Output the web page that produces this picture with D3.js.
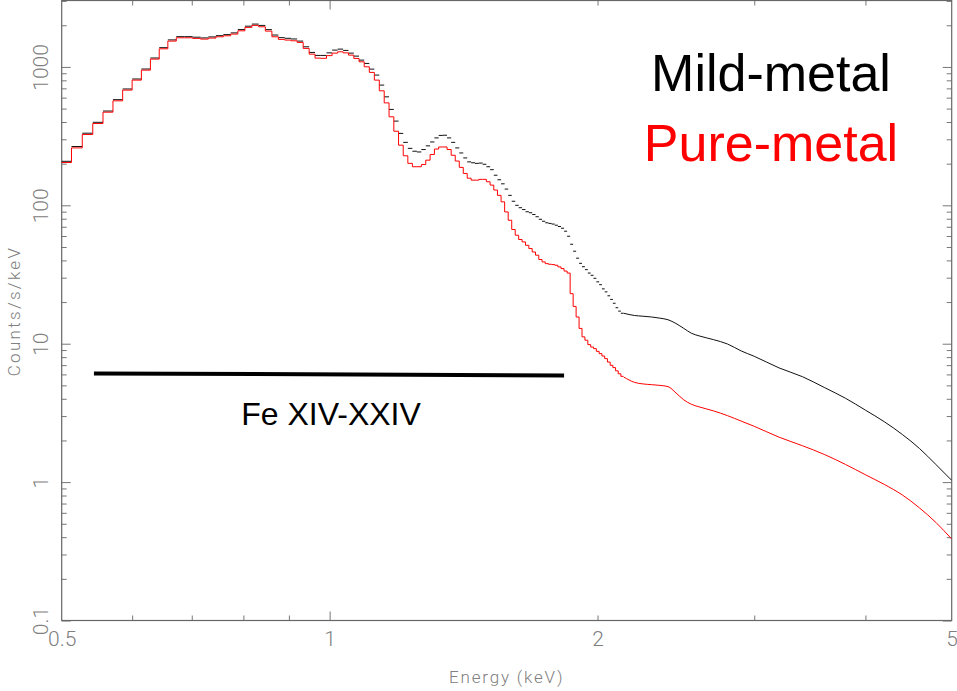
<!DOCTYPE html>
<html lang="en">

<head>
  <meta charset="UTF-8">
  <title>Mild-metal vs Pure-metal spectrum</title>
  <script src="https://cdn.jsdelivr.net/npm/d3@7.6.1/dist/d3.min.js"></script>
  <style>
    html, body { margin: 0; padding: 0; background: #fff; }
    svg { display: block; }
  </style>
</head>

<body>
  <div id="chart"></div>
  <script>
    const width = 957
    const height = 691
    const plot = { left: 61.7, right: 951.7, top: 0.5, bottom: 620.5 }

    // channel grid of the fine part of the spectrum (keV)
    const binStart = 0.4983
    const binWidth = 0.01452

    // counts/s/keV per channel, 0.50 - 2.14 keV
    const mildFine = [208, 266, 332, 398, 480, 580, 693, 818, 966, 1160, 1378, 1568, 1655, 1655, 1640, 1620, 1648, 1683, 1712, 1762,
      1862, 1970, 2040, 1995, 1860, 1700, 1628, 1610, 1592, 1537, 1398, 1273, 1211, 1211, 1264, 1323, 1345, 1316, 1258, 1197,
      1120, 1060, 964, 873, 739, 608, 493, 406, 331, 285, 258, 246, 243, 253, 269, 287, 307, 320, 321, 307,
      285, 260, 239, 220, 206, 203, 201, 202, 198, 190, 181, 165, 153, 143, 131, 118, 107, 100, 96.1, 93.2,
      89.9, 88.4, 85.8, 82.7, 79.3, 76.7, 74.8, 74.0, 73.2, 71.8, 70.3, 68.3, 65.0, 59.8, 52.3, 46.6, 41.5, 38.1, 36.0, 34.3,
      32.4, 31.2, 29.7, 28.0, 26.7, 24.9, 23.7, 22.2, 20.9, 19.6, 18.2, 17.2, 16.6]
    const pureFine = [204, 260, 325, 390, 471, 569, 680, 803, 948, 1139, 1352, 1537, 1624, 1624, 1608, 1589, 1616, 1651, 1679, 1727,
      1824, 1931, 1996, 1950, 1815, 1651, 1581, 1563, 1545, 1504, 1361, 1237, 1158, 1154, 1207, 1258, 1286, 1264, 1217, 1152,
      1089, 1002, 913, 803, 672, 550, 436, 343, 272, 228, 201, 190, 190, 197, 212, 233, 255, 264, 264, 253,
      230, 209, 188, 170, 157, 152, 152, 154, 154, 148, 140, 129, 118, 106, 89.6, 78.0, 66.9, 60.8, 56.6, 54.4,
      51.4, 48.7, 46.0, 43.6, 40.6, 39.0, 37.9, 37.5, 37.3, 36.9, 35.9, 34.9, 33.5, 32.4, 23.0, 18.6, 15.6, 12.9, 11.2, 10.6,
      9.85, 9.46, 9.22, 8.81, 8.48, 8.15, 7.80, 7.37, 6.98, 6.72, 6.37, 6.06, 5.81]

    // smooth high-energy part, 2.14 - 5 keV
    const smoothE = [2.14, 2.2, 2.25, 2.3, 2.35, 2.4, 2.45, 2.5, 2.55, 2.6, 2.7, 2.8, 2.9, 3.0, 3.2, 3.4, 3.6, 3.8, 4.0, 4.2, 4.4, 4.6, 4.8, 5.0]
    const mildSmooth = [16.6, 16.0, 15.8, 15.6, 15.3, 14.9, 14.0, 12.9, 11.9, 11.4, 10.7, 9.95, 8.87, 8.11, 6.68, 5.77, 4.81, 4.03, 3.31, 2.73, 2.21, 1.75, 1.34, 1.03]
    const pureSmooth = [5.75, 5.26, 5.12, 5.06, 5.00, 4.90, 4.41, 3.93, 3.65, 3.50, 3.27, 3.02, 2.76, 2.53, 2.11, 1.83, 1.58, 1.34, 1.13, 0.962, 0.808, 0.651, 0.511, 0.388]

    // Fe L band marker (keV, counts/s/keV at both ends)
    const feBandE = [0.5435, 1.834]
    const feBandV = [6.1, 5.9]

    // ticks
    const xLabels = [0.5, 1, 2, 5]
    const xMajor = [1]
    const xMinor = [0.6, 0.7, 0.8, 0.9, 2, 3, 4]
    const yLabels = [0.1, 1, 10, 100, 1000]

    const x = d3.scaleLog().domain([0.5, 5]).range([plot.left, plot.right])
    const y = d3.scaleLog().domain([0.1, 3020]).range([plot.bottom, plot.top])

    const edges = d3.range(mildFine.length + 1).map(k => binStart + k * binWidth)

    const svg = d3.select('#chart').append('svg')
      .attr('width', width)
      .attr('height', height)

    svg.append('defs').append('clipPath').attr('id', 'clip')
      .append('rect')
      .attr('x', plot.left).attr('y', plot.top)
      .attr('width', plot.right - plot.left).attr('height', plot.bottom - plot.top)

    const tickColor = '#777'
    const labelFont = 'Roboto, "DejaVu Sans", sans-serif'

    // tick marks on all four sides, pointing inwards
    function ticks(axis, tx, ty, size, values) {
      const g = svg.append('g')
        .attr('transform', `translate(${tx},${ty})`)
        .call(axis.tickValues(values).tickSize(-size).tickFormat(''))
      g.select('.domain').remove()
      g.selectAll('line').attr('stroke', tickColor)
    }
    const yMinor = y.ticks().filter(d => !yLabels.includes(d))
    ticks(d3.axisBottom(x), 0, plot.bottom, 9, xMajor)
    ticks(d3.axisBottom(x), 0, plot.bottom, 5, xMinor)
    ticks(d3.axisTop(x), 0, plot.top, 9, xMajor)
    ticks(d3.axisTop(x), 0, plot.top, 5, xMinor)
    ticks(d3.axisLeft(y), plot.left, 0, 9, yLabels)
    ticks(d3.axisLeft(y), plot.left, 0, 5, yMinor)
    ticks(d3.axisRight(y), plot.right, 0, 9, yLabels)
    ticks(d3.axisRight(y), plot.right, 0, 5, yMinor)

    svg.append('rect')
      .attr('x', plot.left).attr('y', plot.top)
      .attr('width', plot.right - plot.left).attr('height', plot.bottom - plot.top)
      .attr('fill', 'none')
      .attr('stroke', '#666')
      .attr('stroke-width', 1.2)

    // tick labels
    const xl = svg.append('g')
      .attr('transform', `translate(0,${plot.bottom})`)
      .call(d3.axisBottom(x).tickValues(xLabels).tickSize(0).tickFormat(d3.format('~g')))
    xl.select('.domain').remove()
    xl.selectAll('text')
      .attr('y', 25).attr('dy', 0)
      .attr('font-family', labelFont).attr('font-weight', 300)
      .attr('font-size', 21).attr('fill', '#808080')

    const yl = svg.append('g')
      .attr('transform', `translate(${plot.left},0)`)
      .call(d3.axisLeft(y).tickValues(yLabels).tickSize(0).tickFormat(d3.format('~g')))
    yl.select('.domain').remove()
    yl.selectAll('text')
      .attr('x', 0).attr('dy', 0)
      .attr('transform', 'translate(-13.5,0) rotate(-90)')
      .attr('text-anchor', 'middle')
      .attr('font-family', labelFont).attr('font-weight', 300)
      .attr('font-size', 21).attr('fill', '#808080')

    // axis titles
    svg.append('text')
      .attr('x', (plot.left + plot.right) / 2).attr('y', 683)
      .attr('text-anchor', 'middle')
      .attr('font-family', labelFont).attr('font-weight', 300)
      .attr('font-size', 17).attr('letter-spacing', 1.8).attr('fill', '#808080')
      .text('Energy (keV)')

    svg.append('text')
      .attr('transform', 'translate(20,311) rotate(-90)')
      .attr('text-anchor', 'middle')
      .attr('font-family', labelFont).attr('font-weight', 300)
      .attr('font-size', 17).attr('letter-spacing', 2.3).attr('fill', '#808080')
      .text('Counts/s/keV')

    const data = svg.append('g').attr('clip-path', 'url(#clip)')

    // mild-metal: one horizontal dash per channel, then the smooth tail
    data.selectAll('line.mild').data(mildFine)
      .enter().append('line')
      .attr('class', 'mild')
      .attr('x1', (d, i) => x(edges[i]))
      .attr('x2', (d, i) => x(edges[i + 1]))
      .attr('y1', d => y(d))
      .attr('y2', d => y(d))
      .attr('stroke', '#111')
      .attr('stroke-width', 1)

    const smooth = d3.line()
      .x(d => x(d[0]))
      .y(d => y(d[1]))
      .curve(d3.curveMonotoneX)

    data.append('path')
      .attr('d', smooth(d3.zip(smoothE, mildSmooth)))
      .attr('fill', 'none')
      .attr('stroke', '#111')
      .attr('stroke-width', 1)

    // pure-metal: connected histogram, then the smooth tail
    const step = d3.line()
      .x(d => x(d[0]))
      .y(d => y(d[1]))
      .curve(d3.curveStepAfter)

    const pureSteps = pureFine.map((v, i) => [edges[i], v])
    pureSteps.push([edges[pureFine.length], pureFine[pureFine.length - 1]])

    data.append('path')
      .attr('d', step(pureSteps))
      .attr('fill', 'none')
      .attr('stroke', '#f00')
      .attr('stroke-width', 1)

    data.append('path')
      .attr('d', smooth(d3.zip(smoothE, pureSmooth)))
      .attr('fill', 'none')
      .attr('stroke', '#f00')
      .attr('stroke-width', 1)

    // Fe L band
    svg.append('line')
      .attr('x1', x(feBandE[0])).attr('x2', x(feBandE[1]))
      .attr('y1', y(feBandV[0])).attr('y2', y(feBandV[1]))
      .attr('stroke', '#000')
      .attr('stroke-width', 4)

    svg.append('text')
      .attr('x', 331).attr('y', 425)
      .attr('text-anchor', 'middle')
      .attr('font-family', '"Liberation Sans", Arial, sans-serif')
      .attr('font-size', 32)
      .attr('fill', '#000')
      .text('Fe XIV-XXIV')

    // legend
    svg.append('text')
      .attr('x', 771).attr('y', 90.5)
      .attr('text-anchor', 'middle')
      .attr('font-family', '"Liberation Sans", Arial, sans-serif')
      .attr('font-size', 52)
      .attr('fill', '#000')
      .text('Mild-metal')

    svg.append('text')
      .attr('x', 771).attr('y', 160.5)
      .attr('text-anchor', 'middle')
      .attr('font-family', '"Liberation Sans", Arial, sans-serif')
      .attr('font-size', 52)
      .attr('fill', '#f00')
      .text('Pure-metal')
  </script>
</body>

</html>
